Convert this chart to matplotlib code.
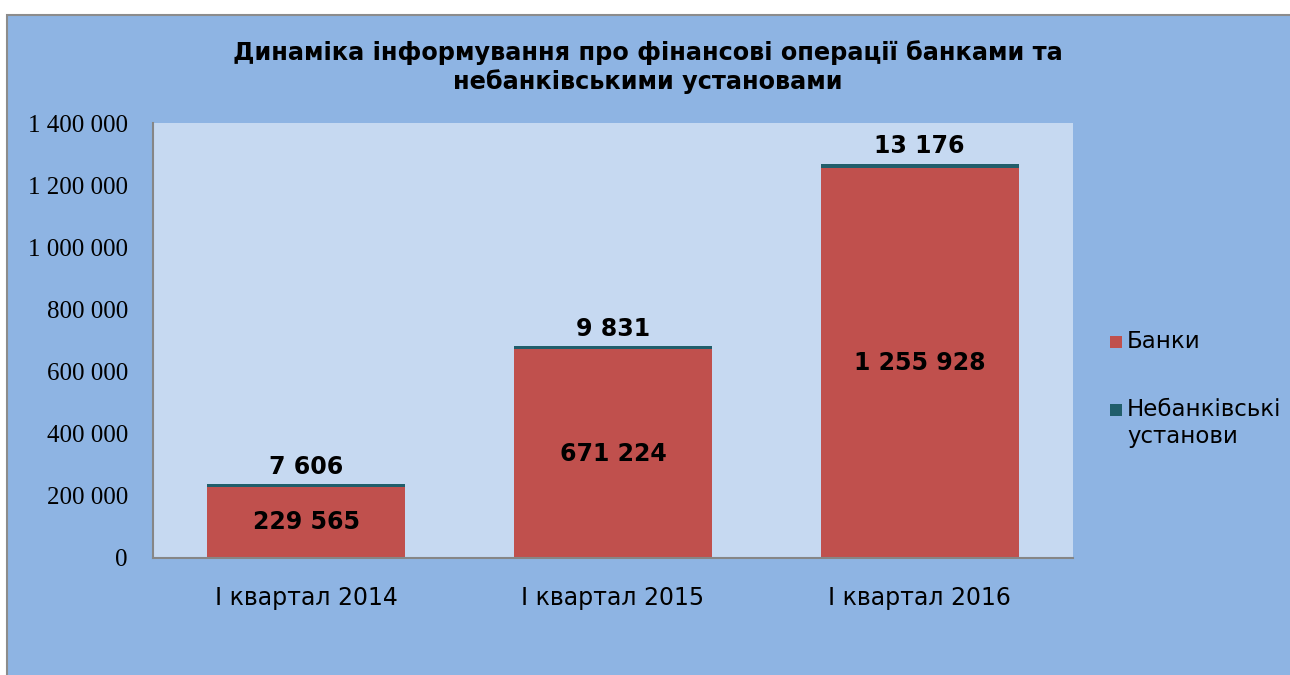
import numpy as np
import matplotlib.pyplot as plt
from matplotlib.patches import Rectangle

categories = ["I квартал 2014", "I квартал 2015", "I квартал 2016"]
banks = [229565, 671224, 1255928]
nonbanks = [7606, 9831, 13176]
series_names = ["Банки", "Небанківські\nустанови"]
yticks = [0, 200000, 400000, 600000, 800000, 1000000, 1200000, 1400000]

def fmt(v):
    return f"{v:,}".replace(",", " ")

red = "#C0504D"
teal = "#215E6B"

W, H = 1290, 675
fig = plt.figure(figsize=(12.9, 6.75), dpi=100, facecolor="white")
# outer chart frame
fig.patches.append(Rectangle((7/W, -0.1), 1.1, 1.1 - 15/H, transform=fig.transFigure,
                             facecolor="#8EB4E3", edgecolor="#8C8C8C", linewidth=1.5, zorder=-1))

ax = fig.add_axes([153/W, 1 - 558/H, 920/W, 435/H])
ax.set_zorder(2)
ax.set_facecolor("#C6D9F1")
x = np.arange(len(categories))
w = 0.646
b1 = ax.bar(x, banks, w, color=red, label=series_names[0], zorder=2)
b2 = ax.bar(x, nonbanks, w, bottom=banks, color=teal, label=series_names[1], zorder=2)

for i in range(len(x)):
    ax.text(x[i], banks[i] / 2, fmt(banks[i]), ha="center", va="center",
            fontsize=17, fontweight="bold", color="black")
    ax.text(x[i], banks[i] + nonbanks[i] + 18000, fmt(nonbanks[i]), ha="center", va="bottom",
            fontsize=17, fontweight="bold", color="black")

ax.set_xlim(-0.5, 2.5)
ax.set_ylim(0, 1400000)
ax.set_yticks(yticks)
ax.set_yticklabels([fmt(t) for t in yticks], fontfamily="Liberation Serif", fontsize=18)
ax.set_xticks(x)
ax.set_xticklabels(categories, fontsize=17)
ax.tick_params(axis="y", length=0, pad=18)
ax.tick_params(axis="x", length=0, pad=20)
for s in ["top", "right"]:
    ax.spines[s].set_visible(False)
for s in ["left", "bottom"]:
    ax.spines[s].set_color("#868686")
    ax.spines[s].set_linewidth(1.5)

fig.text(648/W, 1 - 67/H, "Динаміка інформування про фінансові операції банками та\nнебанківськими установами",
         ha="center", va="center", fontsize=17.3, fontweight="bold", linespacing=1.2)

# legend: square marker aligned with the first line of each label
leg_y = [342, 410]
for (bars, name, yy) in zip([b1, b2], series_names, leg_y):
    fig.patches.append(Rectangle((1110/W, 1 - (yy + 6)/H), 12/W, 12/H, transform=fig.transFigure,
                                 facecolor=bars.patches[0].get_facecolor(), edgecolor="none"))
    fig.text(1127/W, 1 - (yy - 12)/H, name, ha="left", va="top", fontsize=16.5, linespacing=1.2)

fig.savefig("out.png", dpi=100, facecolor=fig.get_facecolor())
